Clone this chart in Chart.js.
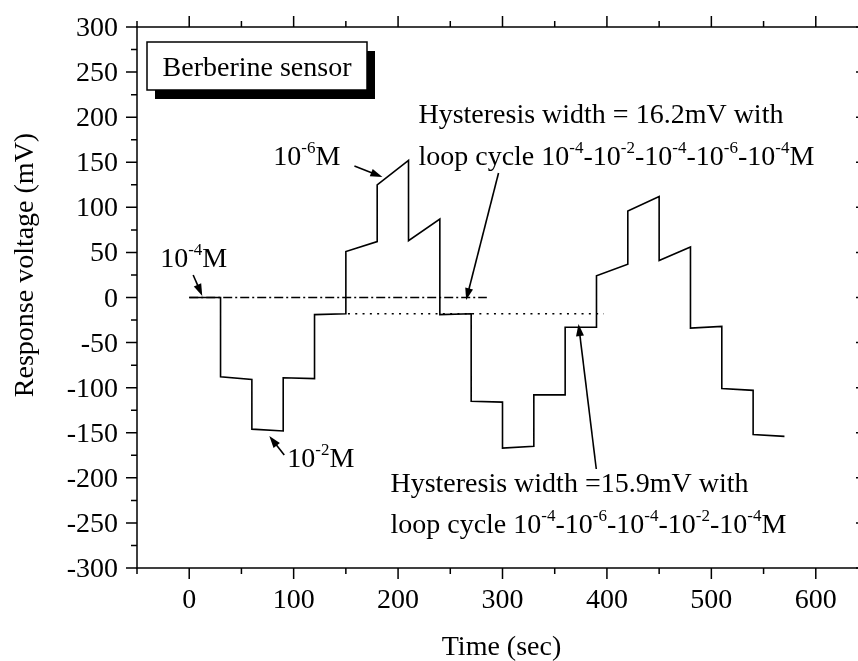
<!DOCTYPE html>
<html>
<head>
<meta charset="utf-8">
<script src="https://cdn.jsdelivr.net/npm/chart.js@4/dist/chart.umd.min.js"></script>
<style>
  html, body { margin: 0; padding: 0; background: #fff; overflow: hidden; }
  canvas { display: block; }
</style>
</head>
<body>
<canvas id="chart-hysteresis" width="870" height="661"></canvas>
<script>
// Berberine sensor response, step changes of concentration every 30 s
const timeSec = [0, 30, 30, 60, 60, 90, 90, 120, 120, 150, 150, 180, 180, 210, 210, 240, 240, 270, 270,
  300, 300, 330, 330, 360, 360, 390, 390, 420, 420, 450, 450, 480, 480, 510, 510, 540, 540, 570];
const voltageMv = [0, 0, -88, -91, -146, -148, -89, -90, -19, -18, 51, 62, 125, 152, 63, 87, -19, -18, -115,
  -116, -167, -165, -108, -108, -33, -33, 24, 37, 96, 112, 41, 56, -34, -32, -101, -103, -152, -154];

// hysteresis reference lines
const dashDotTime = [0, 285];
const dashDotMv = [0, 0];
const dottedTime = [152, 397];
const dottedMv = [-18, -18];

// axes
const xTickValues = [0, 100, 200, 300, 400, 500, 600];
const xMinorValues = [-50, 50, 150, 250, 350, 450, 550, 650];
const yTickValues = [-300, -250, -200, -150, -100, -50, 0, 50, 100, 150, 200, 250, 300];
const xTitle = "Time (sec)";
const yTitle = "Response voltage (mV)";
const boxTitle = "Berberine sensor";

// annotations (text anchored at its left baseline, in data units)
const labelTexts = [
  "10^{-4}M",
  "10^{-6}M",
  "10^{-2}M",
  "Hysteresis width = 16.2mV with",
  "loop cycle 10^{-4}-10^{-2}-10^{-4}-10^{-6}-10^{-4}M",
  "Hysteresis width =15.9mV with",
  "loop cycle 10^{-4}-10^{-6}-10^{-4}-10^{-2}-10^{-4}M"
];
const labelTime = [-27.8, 80.5, 93.9, 219.5, 219.5, 192.7, 192.7];
const labelMv = [33.8, 147, -187.6, 193.5, 147, -215.4, -261.5];

const arrowFromTime = [3.8, 158.2, 91, 296.2, 389.8];
const arrowFromMv = [25, 145.8, -174.7, 138.1, -190.2];
const arrowToTime = [12.5, 185, 76.7, 265.2, 372.8];
const arrowToMv = [1.7, 133.6, -153.6, -2.8, -29.4];

const FONT = "28px 'Liberation Serif', 'Times New Roman', serif";
const SUP_FONT = "17px 'Liberation Serif', 'Times New Roman', serif";

function points(xs, ys) {
  return xs.map((x, i) => ({ x, y: ys[i] }));
}

function drawRich(ctx, str, x, y) {
  const parts = str.split(/\^\{([^}]*)\}/);
  let cx = x;
  parts.forEach((p, i) => {
    if (!p) return;
    const sup = i % 2 === 1;
    ctx.font = sup ? SUP_FONT : FONT;
    ctx.fillText(p, cx, sup ? y - 12 : y);
    cx += ctx.measureText(p).width;
  });
}

function drawArrow(ctx, x1, y1, x2, y2) {
  const ang = Math.atan2(y2 - y1, x2 - x1);
  const len = 12, half = 4;
  ctx.beginPath();
  ctx.moveTo(x1, y1);
  ctx.lineTo(x2 - Math.cos(ang) * len * 0.8, y2 - Math.sin(ang) * len * 0.8);
  ctx.stroke();
  ctx.beginPath();
  ctx.moveTo(x2, y2);
  ctx.lineTo(x2 - Math.cos(ang) * len - Math.sin(ang) * half, y2 - Math.sin(ang) * len + Math.cos(ang) * half);
  ctx.lineTo(x2 - Math.cos(ang) * len + Math.sin(ang) * half, y2 - Math.sin(ang) * len - Math.cos(ang) * half);
  ctx.closePath();
  ctx.fill();
}

const originFrame = {
  id: "originFrame",
  afterDraw(chart) {
    const { ctx, chartArea: a, scales } = chart;
    const xs = scales.x, ys = scales.y;
    ctx.save();
    ctx.strokeStyle = "#000";
    ctx.fillStyle = "#000";
    ctx.lineWidth = 1.5;

    // frame
    ctx.strokeRect(a.left, a.top, a.right - a.left, a.bottom - a.top);

    // ticks
    ctx.beginPath();
    yTickValues.forEach((v, i) => {
      const py = ys.getPixelForValue(v);
      ctx.moveTo(a.left - 11, py); ctx.lineTo(a.left, py);
      ctx.moveTo(a.right, py); ctx.lineTo(a.right - 12, py);
      if (i < yTickValues.length - 1) {
        const pm = ys.getPixelForValue(v + 25);
        ctx.moveTo(a.left - 6, pm); ctx.lineTo(a.left, pm);
        ctx.moveTo(a.right, pm); ctx.lineTo(a.right - 6, pm);
      }
    });
    xTickValues.forEach((v) => {
      const px = xs.getPixelForValue(v);
      ctx.moveTo(px, a.bottom); ctx.lineTo(px, a.bottom + 11);
      ctx.moveTo(px, a.top); ctx.lineTo(px, a.top - 11);
    });
    xMinorValues.forEach((v) => {
      const px = xs.getPixelForValue(v);
      ctx.moveTo(px, a.bottom); ctx.lineTo(px, a.bottom + 6);
      ctx.moveTo(px, a.top); ctx.lineTo(px, a.top - 6);
    });
    ctx.stroke();

    // tick labels
    ctx.font = FONT;
    ctx.textBaseline = "alphabetic";
    ctx.textAlign = "right";
    yTickValues.forEach((v) => ctx.fillText(String(v), a.left - 19, ys.getPixelForValue(v) + 9));
    ctx.textAlign = "center";
    xTickValues.forEach((v) => ctx.fillText(String(v), xs.getPixelForValue(v), a.bottom + 40));

    // axis titles
    ctx.fillText(xTitle, (a.left + a.right) / 2 - 1, 655);
    ctx.save();
    ctx.translate(33, 265);
    ctx.rotate(-Math.PI / 2);
    ctx.fillText(yTitle, 0, 0);
    ctx.restore();

    // legend-like box with shadow
    const bx = a.left + 10, by = a.top + 15, bw = 220, bh = 48;
    ctx.fillRect(bx + 8, by + 9, bw, bh);
    ctx.fillStyle = "#fff";
    ctx.fillRect(bx, by, bw, bh);
    ctx.strokeRect(bx, by, bw, bh);
    ctx.fillStyle = "#000";
    ctx.fillText(boxTitle, bx + bw / 2, by + 34);

    // text annotations
    ctx.textAlign = "left";
    labelTexts.forEach((t, i) => {
      drawRich(ctx, t, xs.getPixelForValue(labelTime[i]), ys.getPixelForValue(labelMv[i]));
    });

    // arrows
    ctx.lineWidth = 1.6;
    arrowFromTime.forEach((t, i) => {
      drawArrow(ctx,
        xs.getPixelForValue(t), ys.getPixelForValue(arrowFromMv[i]),
        xs.getPixelForValue(arrowToTime[i]), ys.getPixelForValue(arrowToMv[i]));
    });
    ctx.restore();
  }
};

new Chart(document.getElementById("chart-hysteresis").getContext("2d"), {
  type: "line",
  data: {
    datasets: [
      { data: points(timeSec, voltageMv), borderColor: "#000", borderWidth: 1.6, pointRadius: 0, tension: 0 },
      { data: points(dashDotTime, dashDotMv), borderColor: "#000", borderWidth: 1.3, borderDash: [9, 3, 2, 3], pointRadius: 0 },
      { data: points(dottedTime, dottedMv), borderColor: "#000", borderWidth: 1.5, borderDash: [2, 5.3], pointRadius: 0 }
    ]
  },
  options: {
    responsive: false,
    animation: false,
    devicePixelRatio: 1,
    layout: { padding: { left: 137, right: 2, top: 27, bottom: 93 } },
    plugins: { legend: { display: false }, tooltip: { enabled: false } },
    scales: {
      x: { type: "linear", display: false, min: -50, max: 650 },
      y: { type: "linear", display: false, min: -300, max: 300 }
    }
  },
  plugins: [originFrame]
});
</script>
</body>
</html>
